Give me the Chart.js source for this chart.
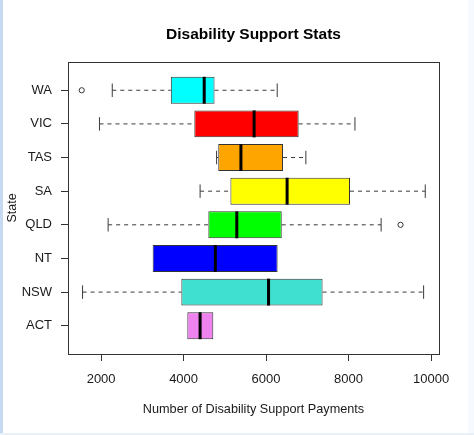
<!DOCTYPE html>
<html>
<head>
<meta charset="utf-8">
<script src="https://cdn.jsdelivr.net/npm/chart.js@4/dist/chart.umd.min.js"></script>
<style>
  html, body { margin: 0; padding: 0; background: #ffffff; }
  #wrap { position: relative; width: 474px; height: 435px; overflow: hidden; }
  #c { position: absolute; left: 0; top: 0; }
  #lstrip { position: absolute; left: 0; top: 0; width: 3px; height: 435px; background: #c6d9f1; }
  #bstrip { position: absolute; left: 0; top: 433px; width: 474px; height: 2px; background: #eaf0f8; }
  #rstrip { position: absolute; left: 468px; top: 0; width: 6px; height: 435px; background: #f6f9fd; }
</style>
</head>
<body>
<div id="wrap">
  <canvas id="c" width="474" height="435"></canvas>
  <div id="lstrip"></div>
  <div id="rstrip"></div>
  <div id="bstrip"></div>
</div>
<script>
// ---- data (top to bottom) ----
const categories  = ['WA', 'VIC', 'TAS', 'SA', 'QLD', 'NT', 'NSW', 'ACT'];
const whiskerLow  = [2270, 1960, 4800, 4400, 2170, 3250, 1550, 4090];
const q1          = [3690, 4260, 4840, 5135, 4600, 3250, 3945, 4090];
const median      = [4500, 5710, 5390, 6510, 5290, 4770, 6060, 4400];
const q3          = [4750, 6790, 6410, 8035, 6380, 6280, 7370, 4720];
const whiskerHigh = [6270, 8155, 6965, 9860, 8790, 6280, 9820, 4720];
const outlierState = ['WA', 'QLD'];
const outlierValue = [1530, 9260];
const xTicks = [2000, 4000, 6000, 8000, 10000];
const boxColors = ['#00FFFF', '#FF0000', '#FFA500', '#FFFF00', '#00FF00', '#0000FF', '#40E0D0', '#EE82EE'];

const n = categories.length;
const pos = categories.map((c, i) => n - i);   // WA at top
const allVals = whiskerLow.concat(whiskerHigh, outlierValue);
const dMin = Math.min(...allVals), dMax = Math.max(...allVals);
const ext = (dMax - dMin) * 0.04;
const yExt = 0.34;

const FONT = "'Liberation Sans', Arial, sans-serif";

const boxPlugin = {
  id: 'boxExtras',
  afterDatasetsDraw(chart) {
    const ctx = chart.ctx;
    const xs = chart.scales.x, ys = chart.scales.y;
    const meta = chart.getDatasetMeta(0);
    ctx.save();
    categories.forEach((c, i) => {
      const bar = meta.data[i];
      const h = bar.height;
      const yc = ys.getPixelForValue(pos[i]);
      const xq1 = xs.getPixelForValue(q1[i]);
      const xq3 = xs.getPixelForValue(q3[i]);
      const xlo = xs.getPixelForValue(whiskerLow[i]);
      const xhi = xs.getPixelForValue(whiskerHigh[i]);
      const xm = xs.getPixelForValue(median[i]);
      // whiskers (dashed)
      ctx.strokeStyle = '#3a3a3a';
      ctx.lineWidth = 1;
      ctx.setLineDash([4, 4]);
      ctx.beginPath();
      if (xlo < xq1 - 0.5) { ctx.moveTo(xlo, yc); ctx.lineTo(xq1, yc); }
      if (xhi > xq3 + 0.5) { ctx.moveTo(xq3, yc); ctx.lineTo(xhi, yc); }
      ctx.stroke();
      ctx.setLineDash([]);
      // staples
      ctx.beginPath();
      const sh = h / 4;
      if (whiskerLow[i] < q1[i]) { ctx.moveTo(xlo, yc - sh); ctx.lineTo(xlo, yc + sh); }
      if (whiskerHigh[i] > q3[i]) { ctx.moveTo(xhi, yc - sh); ctx.lineTo(xhi, yc + sh); }
      ctx.stroke();
      // median
      ctx.strokeStyle = '#000000';
      ctx.lineWidth = 3;
      ctx.beginPath();
      ctx.moveTo(xm, yc - h / 2);
      ctx.lineTo(xm, yc + h / 2);
      ctx.stroke();
    });
    // outliers
    ctx.strokeStyle = '#333333';
    ctx.lineWidth = 1;
    outlierState.forEach((s, k) => {
      const i = categories.indexOf(s);
      const px = xs.getPixelForValue(outlierValue[k]);
      const py = ys.getPixelForValue(pos[i]);
      ctx.beginPath();
      ctx.arc(px, py, 2.6, 0, Math.PI * 2);
      ctx.stroke();
    });
    // plot frame
    const a = chart.chartArea;
    ctx.strokeStyle = '#333333';
    ctx.lineWidth = 1;
    ctx.strokeRect(Math.round(a.left) + 0.5, Math.round(a.top) + 0.5,
                   Math.round(a.right - a.left), Math.round(a.bottom - a.top));
    ctx.restore();
  }
};

new Chart(document.getElementById('c'), {
  type: 'bar',
  data: {
    datasets: [{
      data: categories.map((c, i) => ({ y: pos[i], x: [q1[i], q3[i]] })),
      backgroundColor: boxColors,
      borderColor: '#333333',
      borderWidth: 1,
      borderSkipped: false,
      barPercentage: 0.8,
      categoryPercentage: 1.0
    }]
  },
  options: {
    indexAxis: 'y',
    responsive: false,
    animation: false,
    events: [],
    layout: { padding: { top: 0, bottom: 0, left: 0, right: 35 } },
    plugins: {
      legend: { display: false },
      tooltip: { enabled: false },
      title: {
        display: true,
        fullSize: false,
        text: 'Disability Support Stats',
        color: '#000000',
        font: { family: FONT, size: 15.5, weight: 'bold', lineHeight: 1.2 },
        padding: { top: 25, bottom: 18.4 }
      }
    },
    scales: {
      x: {
        type: 'linear',
        min: dMin - ext,
        max: dMax + ext,
        afterBuildTicks: (s) => { s.ticks = xTicks.map(v => ({ value: v })); },
        afterFit: (s) => { s.height = 81; },
        border: { display: false },
        grid: { display: true, drawOnChartArea: false, drawTicks: true, tickLength: 7, color: '#333333', offset: false },
        ticks: { color: '#1a1a1a', padding: 10.5, font: { family: FONT, size: 13 }, maxRotation: 0, autoSkip: false,
                 callback: (v) => String(v) },
        title: { display: true, text: 'Number of Disability Support Payments', color: '#1a1a1a',
                 font: { family: FONT, size: 12.7 }, padding: { top: 0, bottom: 18 } }
      },
      y: {
        type: 'linear',
        offset: false,
        min: 0.5 - yExt,
        max: n + 0.5 + yExt,
        afterBuildTicks: (s) => { s.ticks = pos.map(v => ({ value: v })); },
        afterFit: (s) => { s.width = 68; },
        border: { display: false },
        grid: { display: true, drawOnChartArea: false, drawTicks: true, tickLength: 7, color: '#333333', offset: false },
        ticks: { color: '#1a1a1a', padding: 9, font: { family: FONT, size: 13 }, autoSkip: false,
                 callback: (v) => { const i = pos.indexOf(v); return i >= 0 ? categories[i] : ''; } },
        title: { display: true, text: 'State', color: '#1a1a1a',
                 font: { family: FONT, size: 12.5 }, padding: { top: 5, bottom: 0 } }
      }
    }
  },
  plugins: [boxPlugin]
});
</script>
</body>
</html>
